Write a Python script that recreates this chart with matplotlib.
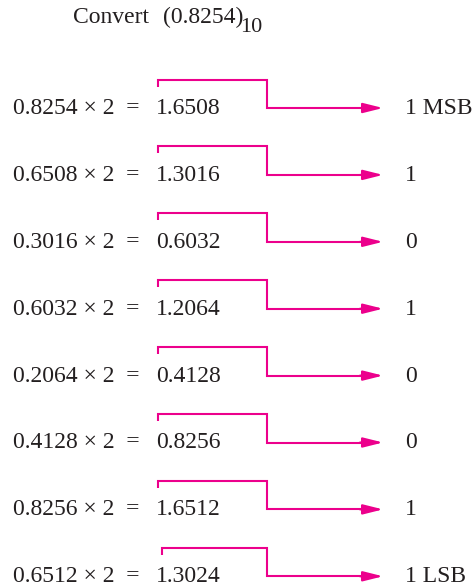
import matplotlib
matplotlib.use("Agg")
import matplotlib.pyplot as plt

multiplicands = ["0.8254", "0.6508", "0.3016", "0.6032", "0.2064", "0.4128", "0.8256", "0.6512"]
products = ["1.6508", "1.3016", "0.6032", "1.2064", "0.4128", "0.8256", "1.6512", "1.3024"]
bits = ["1 MSB", "1", "0", "1", "0", "0", "1", "1 LSB"]
title_number = "(0.8254)"
title_base = "10"

MAG = "#EC008C"
FONT = "Liberation Serif"
FS = 17

fig = plt.figure(figsize=(4.73, 5.87), dpi=100)
ax = fig.add_axes([0, 0, 1, 1])
ax.set_xlim(0, 473)
ax.set_ylim(587, 0)
ax.axis("off")

# title
ax.text(73, 23, "Convert", fontsize=FS, family=FONT, va="baseline", ha="left", color="#231F20")
ax.text(163, 23, title_number, fontsize=FS, family=FONT, va="baseline", ha="left", color="#231F20")
ax.text(240, 32, title_base, fontsize=FS - 1, family=FONT, va="baseline", ha="left", color="#231F20")

for i, (m, p, b) in enumerate(zip(multiplicands, products, bits)):
    yline = 108 + 66.9 * i
    ytop = yline - 28.5
    base = yline + 6
    ax.text(13, base, f"{m} \u00d7 2  =", fontsize=FS, family=FONT, va="baseline", ha="left", color="#231F20")
    ax.text(156, base, p, fontsize=FS, family=FONT, va="baseline", ha="left", color="#231F20")
    ax.text(405, base, b, fontsize=FS, family=FONT, va="baseline", ha="left", color="#231F20")
    x0 = 158 + (4 if i == 7 else 0)
    ax.plot([x0, x0, 267, 267, 370], [ytop + 7, ytop, ytop, yline, yline],
            color=MAG, lw=1.5, solid_joinstyle="miter", solid_capstyle="butt")
    ax.annotate("", xy=(383, yline), xytext=(360, yline),
                arrowprops=dict(arrowstyle="-|>,head_length=1.2,head_width=0.3",
                                color=MAG, lw=1.5, shrinkA=0, shrinkB=0))

fig.savefig("out.png", dpi=100, facecolor="white")
